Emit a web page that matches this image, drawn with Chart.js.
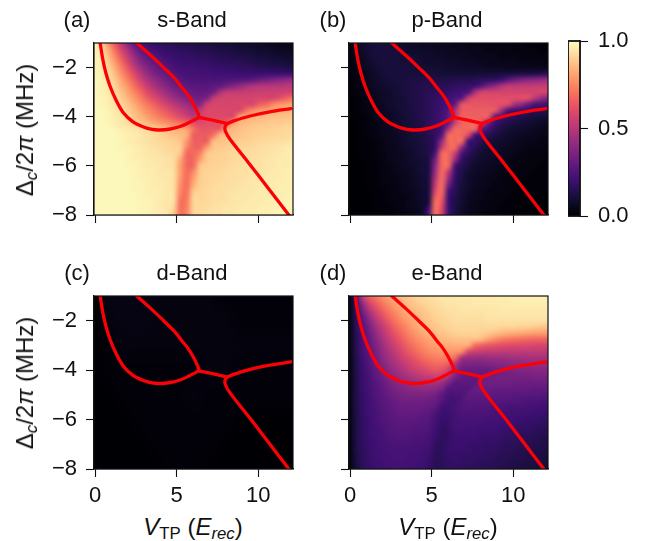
<!DOCTYPE html>
<html lang="en">
<head>
  <meta charset="UTF-8">
  <title>Band populations</title>
  <script src="https://cdn.jsdelivr.net/npm/chart.js"></script>
  <style>
    html, body { margin: 0; background: #fff; }
    #page { position: relative; width: 645px; height: 541px; overflow: hidden; font-family: "Liberation Sans", sans-serif; color: #111; }
    canvas { position: absolute; }
    .txt { position: absolute; white-space: nowrap; font-size: 22px; line-height: 1; transform: translate(-50%, -50%); }
    .big { font-size: 24px; }
    .rot { transform: translate(-50%, -50%) rotate(-90deg); }
    sub { font-size: 70%; line-height: 0; vertical-align: -0.25em; }
  </style>
</head>
<body>
<div id="page"></div>
<script>
// axis ticks
const xTicks = [0, 5, 10];
const yTicks = [-8, -6, -4, -2];
const barTicks = [0, 0.5, 1];

// heat grids in percent. rows go from -1 MHz down to -8 MHz, columns from 0 to 12 Erec
const sBand = [
  [97,93,78,65,52,40,29,23,20,18,17,16,15,14,14,13,12,12,11,10,10,9,8,8,7,7,6,5,4,4,3],
  [98,95,84,71,58,47,36,28,24,21,19,18,17,16,16,15,14,14,13,12,12,11,10,10,9,8,8,7,6,6,5],
  [98,96,87,76,64,53,42,33,28,25,22,20,19,18,18,17,16,16,15,14,14,13,12,12,11,10,10,9,8,8,7],
  [98,97,90,80,69,58,47,38,32,28,25,23,21,20,19,19,18,18,17,16,16,15,15,14,13,13,12,11,11,10,10],
  [98,97,92,84,74,64,53,44,37,32,28,26,23,22,21,21,20,20,19,19,18,18,17,17,16,15,15,14,14,13,13],
  [98,97,94,87,78,69,60,50,42,36,32,29,26,24,23,22,22,22,21,21,21,20,20,20,20,20,20,20,20,20,20],
  [99,98,95,90,82,74,65,56,48,42,37,33,29,27,25,24,24,24,24,24,25,25,26,27,28,32,34,36,38,40,42],
  [99,98,96,92,85,78,70,62,54,47,42,37,33,30,28,27,27,27,28,29,33,37,41,45,48,49,49,50,50,51,51],
  [99,98,96,93,88,82,75,68,60,54,48,43,38,34,31,30,29,30,33,46,53,53,53,54,54,55,55,55,55,56,56],
  [99,98,97,94,90,85,79,73,66,60,55,49,44,40,36,34,33,36,52,57,57,57,57,57,58,58,58,58,62,66,70],
  [99,98,97,95,92,88,83,77,72,67,61,56,51,47,43,40,38,55,58,58,58,58,59,59,59,66,68,75,78,80,81],
  [99,99,98,96,93,90,86,81,76,72,67,63,58,54,49,45,53,59,59,59,59,59,59,70,76,79,81,82,83,84,85],
  [99,99,98,97,95,92,88,85,80,76,72,68,64,60,56,50,55,60,60,60,60,60,80,82,84,85,86,87,87,87,88],
  [99,99,98,97,95,93,90,88,85,82,79,76,73,70,66,60,60,61,61,62,65,80,84,86,87,88,88,89,89,90,90],
  [99,99,99,98,97,96,95,94,92,90,88,86,84,83,80,70,63,63,64,64,83,85,87,88,89,90,90,91,91,92,92],
  [99,99,99,99,98,97,96,95,94,93,91,89,87,86,83,66,65,65,70,85,86,87,88,89,90,90,91,91,92,92,93],
  [99,99,99,99,98,97,96,95,94,93,92,91,90,88,78,66,66,66,86,87,88,89,90,90,91,92,92,93,93,94,95],
  [99,99,99,99,98,98,97,96,95,94,93,92,91,90,74,67,67,79,88,89,90,91,91,92,92,93,94,94,95,96,96],
  [99,99,99,99,99,98,97,96,95,95,94,93,92,88,68,68,74,88,90,90,91,92,92,93,93,94,94,95,95,96,97],
  [99,99,99,99,99,98,97,97,96,95,95,94,93,82,68,68,80,89,90,91,91,92,93,93,94,94,95,95,96,96,97],
  [99,99,99,99,99,98,98,97,96,96,95,94,93,80,68,68,88,90,91,91,92,93,93,94,94,94,95,95,96,96,97],
  [99,99,99,99,99,99,98,97,97,96,95,95,94,80,69,76,89,91,91,92,93,93,94,94,95,95,95,96,96,97,97],
  [99,99,99,99,99,99,98,97,97,96,95,95,94,79,69,80,90,91,92,92,93,93,94,94,95,95,96,96,96,97,97],
  [99,99,99,99,99,99,98,98,97,96,96,95,94,77,69,83,90,91,92,93,93,94,94,95,95,96,96,96,97,97,97],
  [99,99,99,99,99,99,98,98,97,97,96,95,94,75,70,88,91,92,93,93,94,94,95,95,95,96,96,96,97,97,97],
  [99,99,99,99,99,99,99,98,97,97,96,95,94,73,71,91,91,92,93,93,94,95,95,95,96,96,96,97,97,97,98],
  [99,99,99,99,99,99,99,98,98,97,96,95,94,70,73,91,92,92,93,94,94,95,95,96,96,96,97,97,97,98,98],
  [99,99,99,99,99,99,99,98,98,97,96,95,91,70,74,91,92,93,94,94,95,95,96,96,96,97,97,97,98,98,98],
  [99,99,99,99,99,99,99,98,98,97,96,95,89,70,75,91,92,93,94,94,95,95,96,96,96,97,97,98,98,98,99]
];
const pBand = [
  [2,5,8,10,11,11,10,9,8,7,7,6,6,5,5,5,4,4,3,3,3,3,2,2,2,2,2,1,1,1,1],
  [1,5,8,10,11,11,11,10,9,8,8,7,7,6,6,6,5,5,4,4,4,3,3,3,3,2,2,2,2,1,1],
  [1,4,7,9,11,11,11,11,10,9,9,8,8,7,7,6,6,6,5,5,4,4,4,3,3,3,3,2,2,2,2],
  [1,3,6,8,10,11,11,11,10,10,10,9,8,8,8,7,7,6,6,6,5,5,4,4,4,4,3,3,3,3,2],
  [1,3,5,7,9,10,11,11,11,11,10,10,9,9,9,8,8,8,7,7,7,6,6,6,5,5,5,5,5,4,4],
  [1,3,4,6,8,10,11,11,11,11,11,11,11,11,10,10,10,10,10,10,10,10,10,11,11,12,12,13,13,14,15],
  [1,2,4,6,7,9,10,11,11,12,12,13,13,13,13,13,14,14,14,15,16,17,18,20,27,32,36,38,39,41,44],
  [1,2,3,5,7,8,9,10,11,12,13,14,14,15,15,16,17,18,19,20,26,35,40,48,52,52,52,53,53,53,54],
  [1,2,3,4,6,7,8,10,11,12,13,14,15,16,17,18,20,22,24,46,57,57,57,57,57,57,57,57,57,57,57],
  [1,1,2,4,5,7,8,9,10,12,13,14,16,17,19,21,24,28,54,61,61,61,61,61,61,61,61,61,51,42,36],
  [0,1,2,3,5,6,8,9,10,11,13,14,16,18,20,24,30,63,63,63,63,63,62,62,60,45,41,31,23,23,21],
  [0,1,2,3,4,6,7,8,10,11,13,14,16,18,21,26,48,64,65,65,65,65,64,44,24,21,18,17,16,15,14],
  [0,1,1,2,4,5,6,8,9,11,12,14,16,18,22,28,47,66,66,66,66,65,28,23,18,16,14,12,11,10,9],
  [0,0,1,2,3,5,6,7,9,10,12,13,16,18,22,30,55,67,67,67,60,33,20,16,13,11,10,9,8,7,6],
  [0,0,1,2,3,4,5,7,8,10,11,13,15,18,22,45,68,68,68,68,30,22,16,12,10,9,8,7,6,5,5],
  [0,0,1,2,3,4,5,6,8,9,11,12,14,17,26,68,68,68,59,22,20,15,12,10,8,7,6,5,5,4,4],
  [0,0,1,1,2,3,5,6,7,9,10,12,14,18,42,68,68,68,22,18,14,11,9,8,7,6,5,4,4,3,3],
  [0,0,1,1,2,3,4,5,7,8,10,11,13,18,52,68,68,40,20,15,11,9,8,7,6,5,4,3,3,3,2],
  [0,0,1,1,2,3,4,5,6,8,9,11,13,24,68,68,53,24,16,12,9,8,7,6,5,4,3,3,2,2,2],
  [0,0,0,1,2,2,4,5,6,7,9,10,12,34,68,68,42,18,13,10,8,7,6,5,4,3,3,2,2,2,1],
  [0,0,0,1,1,2,3,4,6,7,8,10,12,40,68,68,22,15,11,8,7,6,5,4,3,3,2,2,2,1,1],
  [0,0,0,1,1,2,3,4,5,6,8,10,12,43,69,51,20,13,9,7,6,5,4,3,3,2,2,2,1,1,1],
  [0,0,0,1,1,2,3,3,4,6,7,9,12,48,69,43,18,12,8,6,5,4,4,3,2,2,2,1,1,1,1],
  [0,0,0,1,1,2,2,3,4,5,7,9,12,53,69,35,16,11,8,6,5,4,3,3,2,2,1,1,1,1,1],
  [0,0,0,0,1,1,2,3,4,5,6,8,12,58,69,24,15,10,7,5,4,3,3,2,2,2,1,1,1,1,1],
  [0,0,0,0,1,1,2,3,3,4,6,8,12,64,66,20,14,9,6,5,4,3,2,2,2,1,1,1,1,1,0],
  [0,0,0,0,1,1,2,2,3,4,5,8,12,70,62,20,13,9,6,4,3,3,2,2,1,1,1,1,1,0,0],
  [0,0,0,0,1,1,1,2,3,4,5,7,20,70,58,20,12,8,5,4,3,2,2,1,1,1,1,1,0,0,0],
  [0,0,0,0,0,1,1,2,3,3,5,7,24,70,56,20,11,8,5,4,3,2,2,1,1,1,1,0,0,0,0]
];
const dBand = [
  [0,3,3,3,2,2,2,2,1,1,1,1,1],
  [0,2,3,3,2,2,2,2,2,1,1,1,1],
  [0,1,2,2,2,2,2,2,2,2,2,2,2],
  [0,1,1,1,1,1,1,2,2,1,1,1,1],
  [0,0,1,1,1,1,2,1,1,1,1,1,1],
  [0,0,0,1,1,1,1,1,1,0,0,0,0],
  [0,0,0,0,1,1,1,1,0,0,0,0,0],
  [0,0,0,0,0,1,1,0,0,0,0,0,0]
];
const eBand = [
  [2,20,52,66,72,77,81,84,87,89,91,92,93,94,95,95,95,96,96,96,96,96,96,97,97,97,97,97,97,97,97],
  [2,18,42,58,66,72,77,81,84,87,89,91,92,93,94,95,95,95,95,96,96,96,96,96,96,97,97,97,97,97,97],
  [2,17,35,50,60,67,73,78,82,85,87,89,91,92,93,94,94,95,95,95,95,95,95,96,96,96,96,96,96,96,96],
  [2,16,30,43,54,62,69,74,79,82,85,87,89,91,92,93,94,94,94,94,94,95,95,95,95,95,95,95,95,95,95],
  [2,15,27,38,49,57,65,71,76,80,83,86,88,90,91,92,93,93,93,93,93,94,94,94,94,94,94,94,94,94,94],
  [2,15,25,34,44,52,60,67,72,77,81,84,86,88,90,91,92,92,92,92,92,92,92,91,91,91,90,90,89,88,87],
  [2,14,24,32,41,49,57,63,69,74,78,82,84,86,88,89,90,91,91,91,90,89,87,85,84,83,82,81,80,80,79],
  [2,14,23,30,38,46,53,60,65,71,75,78,81,83,85,86,87,87,87,87,85,80,76,73,71,70,69,68,67,67,67],
  [2,14,22,29,36,43,50,56,62,67,72,75,78,80,82,82,83,83,82,69,66,63,62,61,60,60,59,59,58,58,58],
  [2,14,22,27,34,41,47,53,59,64,68,72,75,77,78,78,78,75,59,55,54,53,53,52,52,52,52,52,52,52,50],
  [2,13,21,26,32,39,45,50,55,60,64,68,71,73,74,72,68,46,43,42,42,43,43,44,44,45,45,45,46,46,46],
  [2,13,20,25,31,37,42,47,51,56,60,63,66,68,68,65,48,37,36,36,36,37,38,38,39,40,41,41,42,42,42],
  [2,13,20,24,29,34,39,44,48,52,55,58,61,63,62,55,42,32,31,31,31,31,33,34,35,36,37,37,38,38,38],
  [2,13,19,23,28,32,37,41,44,47,50,52,54,55,54,48,36,30,29,29,30,32,33,34,34,34,34,34,35,35,35],
  [2,13,19,23,26,30,34,38,40,42,44,45,46,46,44,36,28,28,28,28,33,33,33,33,33,32,32,32,32,32,32],
  [2,13,19,22,25,29,32,35,37,39,40,41,41,40,36,26,26,26,26,31,31,31,30,30,30,30,30,30,29,29,29],
  [2,13,18,22,25,28,31,33,35,36,36,36,35,34,28,24,24,24,29,29,29,29,28,28,28,27,27,27,27,26,26],
  [2,13,18,21,24,27,29,31,33,33,33,33,32,31,26,22,22,25,27,27,27,27,26,26,25,25,25,24,24,24,23],
  [2,13,18,21,24,26,28,30,31,31,31,31,30,28,21,21,23,25,26,25,25,25,24,24,23,23,23,22,22,21,21],
  [2,12,18,21,23,25,27,29,30,30,30,29,28,24,20,20,22,24,24,24,24,24,23,23,22,22,21,21,20,20,19],
  [2,12,17,20,23,25,26,28,28,28,28,27,26,22,19,19,22,23,23,23,23,22,22,21,21,20,20,19,19,18,18],
  [2,12,17,20,22,24,25,27,27,27,26,26,25,21,18,19,22,22,22,22,21,21,21,20,20,19,18,18,17,17,16],
  [2,12,17,20,22,23,25,26,26,26,25,25,24,20,17,18,21,21,21,21,20,20,20,19,18,18,17,17,16,15,15],
  [2,12,17,20,21,23,24,25,25,25,24,24,23,19,17,18,20,20,20,20,19,19,19,18,17,17,16,15,15,14,14],
  [1,12,17,19,21,22,23,24,24,24,23,23,22,18,16,19,20,20,19,19,19,18,18,17,16,16,15,15,14,13,13],
  [1,12,16,19,21,22,23,23,23,23,23,22,21,17,16,19,19,19,19,18,18,17,17,16,16,15,14,14,13,13,12],
  [1,11,16,19,20,22,22,23,23,22,22,21,20,16,16,18,19,18,18,18,17,17,16,15,15,14,14,13,12,12,11],
  [1,11,16,18,20,21,22,22,22,22,21,21,19,15,16,18,18,18,17,17,16,16,15,15,14,13,13,12,12,11,10],
  [1,10,15,18,20,21,21,22,22,21,21,20,18,15,16,17,18,17,17,16,16,15,15,14,13,13,12,11,11,10,9]
];
const barLevels = [100, 90, 80, 70, 60, 50, 40, 30, 20, 10, 0];

// red resonance curves, [V, delta]
const lobeLower = [[0.31,-1],[0.45,-1.6],[0.65,-2.2],[0.92,-2.77],[1.3,-3.35],[1.73,-3.84],[2.3,-4.2],[2.96,-4.42],[3.5,-4.52],[3.95,-4.54],[4.6,-4.5],[5.2,-4.4],[5.75,-4.24],[6.22,-4.08],[6.38,-4.02]];
const lobeUpper = [[2.55,-1],[3.4,-1.5],[4.2,-2.0],[4.86,-2.43],[5.3,-2.8],[5.67,-3.1],[6.0,-3.45],[6.29,-3.84],[6.38,-4.03]];
const connector = [[6.38,-4.03],[7.2,-4.14],[8.1,-4.28]];
const rightUpper = [[8.1,-4.28],[8.5,-4.17],[9.5,-3.97],[10.7,-3.8],[12,-3.67]];
const rightLower = [[8.1,-4.28],[7.97,-4.4],[7.98,-4.58],[8.27,-4.92],[9.4,-5.87],[10.6,-6.9],[11.9,-8.02]];

const panelTitles = ['s-Band', 'p-Band', 'd-Band', 'e-Band'];
const panelLetters = ['(a)', '(b)', '(c)', '(d)'];
const panelGrids = [sBand, pBand, dBand, eBand];

// magma colormap stops
const magma = [[0,0,4],[20,14,54],[59,15,112],[100,26,128],[140,41,129],[183,55,121],[222,73,104],[247,112,92],[254,159,109],[254,207,146],[252,253,191]];

function magmaColor(v) {
  const t = Math.min(Math.max(v, 0), 0.9999) * (magma.length - 1);
  const i = Math.floor(t), f = t - i;
  return magma[i].map((c, k) => Math.round(c + (magma[i + 1][k] - c) * f));
}

// paints a grid of percent values into the chart area, smoothed like imshow
function heatLayer(grid) {
  return {
    id: 'heat',
    beforeDatasetsDraw(chart) {
      const rows = grid.length, cols = grid[0].length;
      const off = document.createElement('canvas');
      off.width = cols;
      off.height = rows;
      const octx = off.getContext('2d');
      const img = octx.createImageData(cols, rows);
      grid.forEach((row, r) => row.forEach((v, c) => {
        const rgb = magmaColor(v / 100), p = (r * cols + c) * 4;
        img.data[p] = rgb[0];
        img.data[p + 1] = rgb[1];
        img.data[p + 2] = rgb[2];
        img.data[p + 3] = 255;
      }));
      octx.putImageData(img, 0, 0);
      const sx = chart.scales.x, sy = chart.scales.y;
      const x0 = sx.getPixelForValue(sx.min), x1 = sx.getPixelForValue(sx.max);
      const y0 = sy.getPixelForValue(sy.max), y1 = sy.getPixelForValue(sy.min);
      const ctx = chart.ctx;
      ctx.save();
      ctx.imageSmoothingEnabled = true;
      ctx.imageSmoothingQuality = 'high';
      ctx.drawImage(off, 0.5, 0.5, cols - 1, rows - 1, x0, y0, x1 - x0, y1 - y0);
      ctx.restore();
    }
  };
}

// box round the axes
function frame(width) {
  return {
    id: 'frame',
    afterDraw(chart) {
      const a = chart.chartArea, ctx = chart.ctx;
      ctx.save();
      ctx.strokeStyle = '#111';
      ctx.lineWidth = width;
      ctx.strokeRect(a.left, a.top, a.right - a.left, a.bottom - a.top);
      ctx.restore();
    }
  };
}

// tick labels must not push the axes inwards, every panel keeps the same box
function noScalePadding(s) {
  s.paddingTop = 0;
  s.paddingBottom = 0;
  s.paddingLeft = 0;
  s.paddingRight = 0;
}

const page = document.getElementById('page');

function addCanvas(left, top, w, h) {
  const c = document.createElement('canvas');
  c.width = w;
  c.height = h;
  c.style.left = left + 'px';
  c.style.top = top + 'px';
  page.appendChild(c);
  return c;
}

function addText(html, x, y, cls) {
  const s = document.createElement('span');
  s.className = 'txt' + (cls ? ' ' + cls : '');
  s.innerHTML = html;
  s.style.left = x + 'px';
  s.style.top = y + 'px';
  page.appendChild(s);
}

const tickFont = { family: '"Liberation Sans", sans-serif', size: 22 };
const PAD_L = 62, PAD_T = 16, PAD_B = 42, PAD_R = 6, AREA_W = 199;

function curveSet(points) {
  return {
    data: points.map(p => ({ x: p[0], y: p[1] })),
    showLine: true,
    borderColor: '#fb0007',
    borderWidth: 3.3,
    pointRadius: 0,
    tension: 0.35,
    borderCapStyle: 'round'
  };
}

function drawPanel(i) {
  const col = i % 2, row = Math.floor(i / 2);
  const left = col ? 349 : 94, top = row ? 296 : 43, areaH = row ? 173 : 172;
  const canvas = addCanvas(left - PAD_L, top - PAD_T, PAD_L + AREA_W + PAD_R, PAD_T + areaH + PAD_B);
  new Chart(canvas.getContext('2d'), {
    type: 'scatter',
    data: { datasets: [lobeLower, lobeUpper, connector, rightUpper, rightLower].map(curveSet) },
    options: {
      responsive: false,
      animation: false,
      events: [],
      layout: { padding: { top: PAD_T, right: PAD_R, left: 0, bottom: 0 } },
      plugins: { legend: { display: false }, tooltip: { enabled: false } },
      scales: {
        x: {
          type: 'linear', min: -0.07, max: 12.13,
          afterBuildTicks: s => { s.ticks = xTicks.map(v => ({ value: v })); },
          afterFit: s => { s.height = PAD_B; noScalePadding(s); },
          ticks: { display: row === 1, font: tickFont, color: '#111', padding: 6, maxRotation: 0 },
          grid: { drawOnChartArea: false, tickLength: 8, color: '#111', tickWidth: 1.1 },
          border: { color: '#111', width: 1.2 }
        },
        y: {
          type: 'linear', min: -8, max: -1,
          afterBuildTicks: s => { s.ticks = yTicks.map(v => ({ value: v })); },
          afterFit: s => { s.width = PAD_L; noScalePadding(s); },
          ticks: {
            display: col === 0, font: tickFont, color: '#111', padding: 9,
            callback: v => String(v).replace('-', '\u2212')
          },
          grid: { drawOnChartArea: false, tickLength: 8, color: '#111', tickWidth: 1.1 },
          border: { color: '#111', width: 1.2 }
        }
      }
    },
    plugins: [heatLayer(panelGrids[i]), frame(1.2)]
  });

  const cx = left + 98;
  addText(panelTitles[i], cx, row ? 273 : 20);
  addText(panelLetters[i], col ? 333 : 77, row ? 273 : 20);
  if (col === 0) addText('\u0394<sub><i>c</i></sub>/2<i>\u03c0</i> (MHz)', 25, top + 87, 'big rot');
  if (row === 1) addText('<i>V</i><sub>TP</sub> (<i>E<sub>rec</sub></i>)', cx + 1, 527, 'big');
}

function drawColorbar() {
  const canvas = addCanvas(568, 27, 77, 203);
  new Chart(canvas.getContext('2d'), {
    type: 'scatter',
    data: { datasets: [] },
    options: {
      responsive: false,
      animation: false,
      events: [],
      layout: { padding: { top: 14, bottom: 14, left: 0, right: 0 } },
      plugins: { legend: { display: false }, tooltip: { enabled: false } },
      scales: {
        x: { type: 'linear', min: 0, max: 1, display: false },
        y: {
          type: 'linear', position: 'right', min: 0, max: 1,
          afterBuildTicks: s => { s.ticks = barTicks.map(v => ({ value: v })); },
          afterFit: s => { s.width = 65; noScalePadding(s); },
          ticks: { font: tickFont, color: '#111', padding: 10, callback: v => v.toFixed(1) },
          grid: { drawOnChartArea: false, tickLength: 8, color: '#111', tickWidth: 1.1 },
          border: { color: '#111', width: 1.2 }
        }
      }
    },
    plugins: [heatLayer(barLevels.map(v => [v, v])), frame(1.8)]
  });
}

[0, 1, 2, 3].forEach(drawPanel);
drawColorbar();
</script>
</body>
</html>
